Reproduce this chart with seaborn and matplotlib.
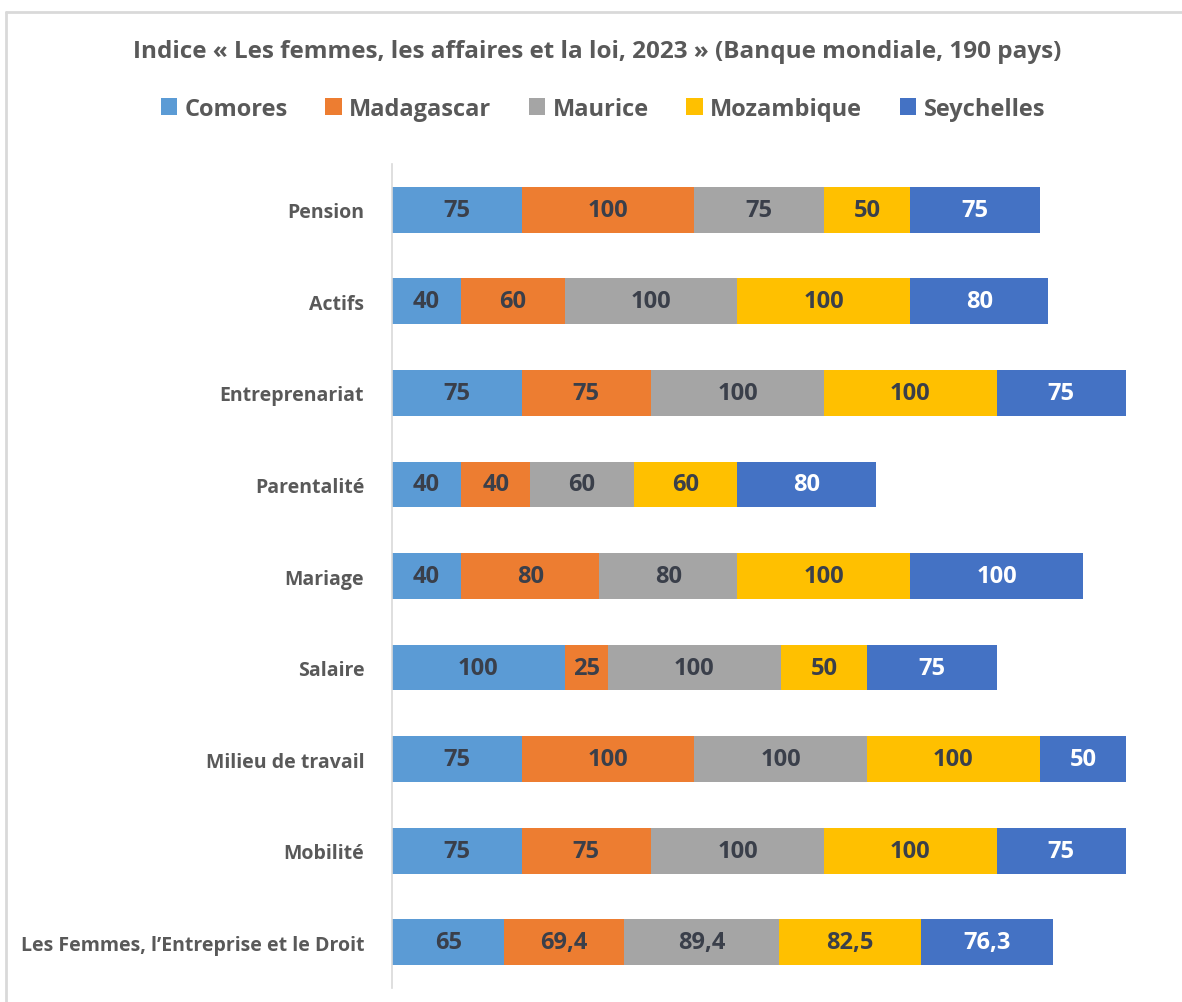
import numpy as np
import pandas as pd
import matplotlib
matplotlib.use("Agg")
import matplotlib.pyplot as plt
from matplotlib.patches import Patch
from matplotlib.lines import Line2D
import seaborn as sns

categories = ["Pension", "Actifs", "Entreprenariat", "Parentalité", "Mariage",
              "Salaire", "Milieu de travail", "Mobilité",
              "Les Femmes, l\u2019Entreprise et le Droit"]
series_names = ["Comores", "Madagascar", "Maurice", "Mozambique", "Seychelles"]
comores = [75, 40, 75, 40, 40, 100, 75, 75, 65]
madagascar = [100, 60, 75, 40, 80, 25, 100, 75, 69.4]
maurice = [75, 100, 100, 60, 80, 100, 100, 100, 89.4]
mozambique = [50, 100, 100, 60, 100, 50, 100, 100, 82.5]
seychelles = [75, 80, 75, 80, 100, 75, 50, 75, 76.3]
colors = ["#5B9BD5", "#ED7D31", "#A5A5A5", "#FFC000", "#4472C4"]
text_colors = ["#3A3F4A", "#3A3F4A", "#3A3F4A", "#3A3F4A", "#FFFFFF"]
title = "Indice « Les femmes, les affaires et la loi, 2023 » (Banque mondiale, 190 pays)"

sns.set_theme(style="white")
plt.rcParams["font.family"] = ["Open Sans", "DejaVu Sans"]

data = np.array([comores, madagascar, maurice, mozambique, seychelles], dtype=float)
cum = np.cumsum(data, axis=0)

fig = plt.figure(figsize=(11.82, 10.03), dpi=100)
fig.patch.set_facecolor("white")
ax = fig.add_axes([392/1182, 14/1003, 760/1182, 824/1003])

for i in reversed(range(len(series_names))):
    df = pd.DataFrame({"cat": categories, "val": cum[i]})
    sns.barplot(data=df, x="val", y="cat", orient="h", color=colors[i],
                saturation=1, width=0.5, ax=ax, order=categories, linewidth=0)

for i in range(len(series_names)):
    starts = cum[i] - data[i]
    for j, cat in enumerate(categories):
        v = data[i][j]
        lab = (f"{v:g}").replace(".", ",")
        ax.text(starts[j] + v / 2, j, lab, ha="center", va="center",
                fontsize=17, fontweight="bold", color=text_colors[i])

ax.set_xlim(0, 440)
ax.set_ylim(8.5, -0.5)
ax.set_xlabel("")
ax.set_ylabel("")
ax.set_xticks([])
ax.tick_params(axis="y", length=0, pad=20)
for lbl in ax.get_yticklabels():
    lbl.set_fontweight("bold")
    lbl.set_fontsize(14)
    lbl.set_color("#595959")
for s in ["top", "right", "bottom"]:
    ax.spines[s].set_visible(False)
ax.spines["left"].set_color("#D9D9D9")
ax.spines["left"].set_linewidth(1.2)

fig.text(0.505, 1 - 52/1003, title, ha="center", va="center",
         fontsize=17.5, fontweight="bold", color="#595959")

handles = [Patch(facecolor=c, edgecolor="none") for c in colors]
leg = fig.legend(handles, series_names, loc="center", bbox_to_anchor=(0.51, 1 - 110/1003),
                 ncol=5, frameon=False, fontsize=17, handlelength=0.7, handleheight=0.7,
                 handletextpad=0.3, columnspacing=1.6)
for t in leg.get_texts():
    t.set_fontweight("bold")
    t.set_color("#595959")

fig.lines.append(Line2D([6/1182, 1.0], [1 - 13/1003, 1 - 13/1003], transform=fig.transFigure,
                        color="#D9D9D9", linewidth=2))
fig.lines.append(Line2D([6/1182, 6/1182], [0, 1 - 13/1003], transform=fig.transFigure,
                        color="#D9D9D9", linewidth=2))

fig.savefig("out.png", dpi=100)
